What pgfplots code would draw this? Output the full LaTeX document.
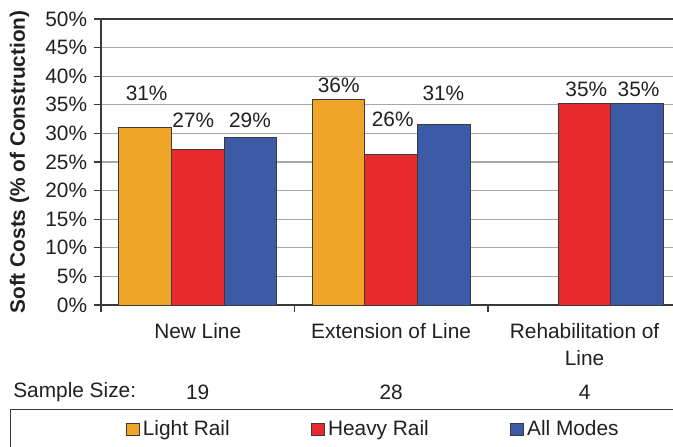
\documentclass[border=0pt]{standalone}
\usepackage{fontspec}
\setmainfont{Liberation Sans}
\usepackage{pgfplots}
\pgfplotsset{compat=1.18}
\definecolor{lr}{HTML}{F0A528}
\definecolor{hr}{HTML}{E92A2D}
\definecolor{am}{HTML}{3D5AA6}
\definecolor{txt}{HTML}{231F20}
\definecolor{gridc}{HTML}{A6A9AC}
\definecolor{axc}{HTML}{3A3A3A}
\pgfplotsset{
  layers/mylayers/.define layer set={axis background,axis grid,main,axis ticks,axis lines,axis tick labels,axis descriptions,axis foreground}{},
}
\pgfplotstableread{
x y
0 31
1 36
}\lightrail
\pgfplotstableread{
x y
0 27.1
1 26.4
2 35.3
}\heavyrail
\pgfplotstableread{
x y
0 29.2
1 31.5
2 35.3
}\allmodes
\begin{document}
\fontsize{12.5}{16.2}\selectfont
\begin{tikzpicture}
\begin{axis}[
  set layers=mylayers,
  at={(60.6pt,-183pt)}, anchor=south west,
  width=343.2pt, height=171.6pt, scale only axis,
  xmin=-0.5, xmax=2.457, ymin=0, ymax=50,
  clip=false,
  ybar=0pt, bar width=31.6pt,
  axis lines*=left,
  axis line style={axc, line width=0.8pt},
  ymajorgrids, grid style={gridc, line width=0.8pt},
  tick align=outside,
  ytick={0,5,...,50},
  yticklabels={0\%,5\%,10\%,15\%,20\%,25\%,30\%,35\%,40\%,45\%,50\%},
  ytick style={axc, line width=0.8pt},
  y tick label style={text=txt, font=\fontsize{12.5}{14}\selectfont},
  ytick pos=left,
  xtick={-0.5,0.5,1.5},
  xticklabels={},
  xtick pos=bottom,
  xtick style={axc, line width=0.8pt},
  major tick length=4pt,
  extra x ticks={0,1,2},
  extra x tick labels={New Line, Extension of Line, {Rehabilitation of\\Line}},
  extra x tick style={tick align=inside, major tick length=2pt, grid=none,
     xticklabel style={align=center, text=txt, anchor=north, yshift=-6.6pt, font=\fontsize{12.5}{16.2}\selectfont}},
  every axis y label/.style={at={(rel axis cs:0,0.5)}, xshift=-48.9pt, rotate=90, anchor=center},
  ylabel={\textbf{Soft Costs (\% of Construction)}},
  ylabel style={text=txt, font=\fontsize{12.5}{14}\selectfont},
  legend columns=3,
  legend style={at={(0.0435,-0.437)}, anchor=west, draw=none, fill=none, inner sep=0pt,
     font=\fontsize{12.5}{14}\selectfont, text=txt,
     /tikz/every even column/.append style={column sep=47pt}},
  legend image code/.code={\draw[#1, draw=axc, line width=0.6pt] (0pt,-3.6pt) rectangle (7.4pt,3.6pt);},
]
\draw[axc, line width=0.8pt] (rel axis cs:0,1) -- (rel axis cs:1,1);
\addplot[fill=lr, draw=axc, line width=0.6pt] table[x=x,y=y] {\lightrail};
\addplot[fill=hr, draw=axc, line width=0.6pt] table[x=x,y=y] {\heavyrail};
\addplot[fill=am, draw=axc, line width=0.6pt] table[x=x,y=y] {\allmodes};
\legend{Light Rail, Heavy Rail, All Modes}
\node[text=txt] at (axis cs:-0.264,36.98) {31\%};
\node[text=txt] at (axis cs:-0.023,32.34) {27\%};
\node[text=txt] at (axis cs:0.270,32.34) {29\%};
\node[text=txt] at (axis cs:0.729,38.46) {36\%};
\node[text=txt] at (axis cs:1.008,32.43) {26\%};
\node[text=txt] at (axis cs:1.270,37.06) {31\%};
\node[text=txt] at (axis cs:2.009,37.76) {35\%};
\node[text=txt] at (axis cs:2.279,37.76) {35\%};
\node[text=txt] at (axis cs:0,-15.2) {19};
\node[text=txt] at (axis cs:1,-15.2) {28};
\node[text=txt] at (axis cs:2,-15.2) {4};
\end{axis}
\node[text=txt, anchor=west, inner sep=0pt] at (7.8pt,-235.2pt) {Sample Size:};
\draw[axc, line width=0.6pt] (6pt,-245.4pt) rectangle (420pt,-300pt);
\pgfresetboundingbox
\path[use as bounding box] (0pt,0pt) rectangle (403.8pt,-267.6pt);
\end{tikzpicture}
\end{document}
